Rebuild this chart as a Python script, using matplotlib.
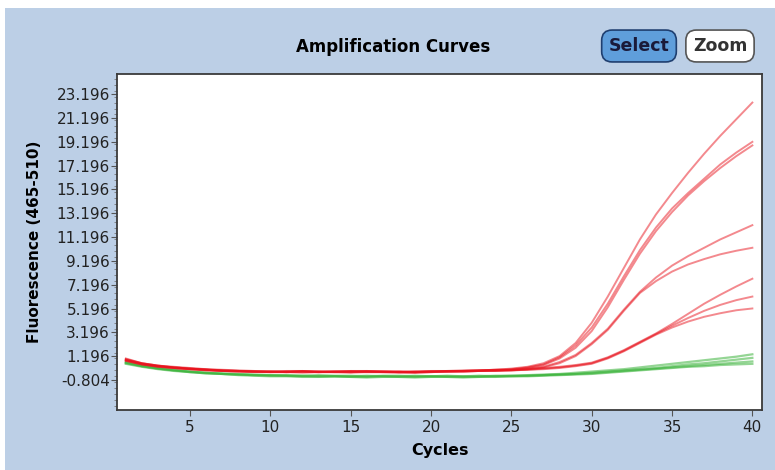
import matplotlib
matplotlib.use("Agg")
import matplotlib.pyplot as plt
from matplotlib.patches import Rectangle
from matplotlib.ticker import MultipleLocator

# cycles 1..40
cycles = list(range(1, 41))

# red (positive) amplification curves
red_a1 = [1.0, 0.6, 0.4, 0.3, 0.2, 0.1, 0.05, 0.0, -0.05, -0.1,
          -0.1, -0.1, -0.15, -0.1, -0.1, -0.05, -0.1, -0.1, -0.15, -0.1,
          -0.1, -0.05, 0.0, 0.05, 0.15, 0.3, 0.6, 1.2, 2.3, 4.0,
          6.2, 8.6, 11.0, 13.1, 14.9, 16.6, 18.2, 19.7, 21.1, 22.5]
red_a2 = [0.9, 0.6, 0.4, 0.25, 0.15, 0.1, 0.0, -0.05, -0.1, -0.1,
          -0.15, -0.1, -0.1, -0.15, -0.15, -0.1, -0.1, -0.15, -0.1, -0.1,
          -0.05, -0.05, 0.0, 0.05, 0.1, 0.25, 0.5, 1.1, 2.1, 3.6,
          5.6, 7.9, 10.1, 12.0, 13.6, 14.9, 16.1, 17.3, 18.3, 19.2]
red_a3 = [0.8, 0.5, 0.35, 0.2, 0.1, 0.05, -0.05, -0.1, -0.1, -0.15,
          -0.15, -0.2, -0.15, -0.15, -0.2, -0.15, -0.15, -0.2, -0.2, -0.15,
          -0.1, -0.1, -0.05, 0.0, 0.05, 0.2, 0.45, 1.0, 1.9, 3.3,
          5.3, 7.6, 9.8, 11.7, 13.3, 14.7, 15.9, 17.0, 18.0, 18.9]
red_b1 = [0.9, 0.55, 0.35, 0.25, 0.15, 0.05, 0.0, -0.05, -0.1, -0.1,
          -0.1, -0.05, -0.1, -0.1, -0.05, -0.1, -0.1, -0.1, -0.15, -0.1,
          -0.05, -0.05, 0.0, 0.0, 0.05, 0.15, 0.3, 0.7, 1.3, 2.3,
          3.5, 5.1, 6.6, 7.8, 8.8, 9.6, 10.3, 11.0, 11.6, 12.2]
red_b2 = [0.85, 0.5, 0.3, 0.2, 0.1, 0.0, -0.05, -0.1, -0.15, -0.15,
          -0.15, -0.1, -0.15, -0.15, -0.1, -0.15, -0.15, -0.15, -0.2, -0.15,
          -0.1, -0.1, -0.05, -0.05, 0.0, 0.1, 0.25, 0.6, 1.2, 2.2,
          3.4, 5.0, 6.5, 7.5, 8.3, 8.9, 9.35, 9.75, 10.05, 10.3]
red_c1 = [0.95, 0.6, 0.4, 0.25, 0.15, 0.05, 0.0, -0.05, -0.1, -0.1,
          -0.05, -0.05, -0.1, -0.1, -0.05, -0.05, -0.1, -0.1, -0.1, -0.05,
          -0.05, 0.0, 0.0, 0.05, 0.05, 0.1, 0.2, 0.3, 0.45, 0.65,
          1.1, 1.7, 2.4, 3.1, 3.9, 4.75, 5.6, 6.35, 7.05, 7.7]
red_c2 = [0.8, 0.5, 0.3, 0.2, 0.1, 0.0, -0.05, -0.1, -0.1, -0.15,
          -0.1, -0.1, -0.15, -0.1, -0.1, -0.1, -0.15, -0.15, -0.1, -0.1,
          -0.1, -0.05, -0.05, 0.0, 0.0, 0.05, 0.15, 0.25, 0.4, 0.6,
          1.05, 1.65, 2.35, 3.05, 3.75, 4.4, 5.0, 5.5, 5.9, 6.2]
red_c3 = [0.85, 0.55, 0.35, 0.2, 0.1, 0.05, -0.05, -0.05, -0.1, -0.1,
          -0.15, -0.1, -0.1, -0.1, -0.15, -0.1, -0.1, -0.15, -0.15, -0.1,
          -0.1, -0.1, -0.05, -0.05, 0.0, 0.05, 0.1, 0.2, 0.35, 0.55,
          1.0, 1.6, 2.3, 3.0, 3.6, 4.1, 4.5, 4.8, 5.05, 5.2]

# green (negative) curves
green_1 = [0.7, 0.4, 0.2, 0.05, -0.1, -0.2, -0.25, -0.3, -0.35, -0.4,
           -0.4, -0.45, -0.4, -0.45, -0.45, -0.5, -0.45, -0.45, -0.5, -0.5,
           -0.45, -0.5, -0.5, -0.45, -0.45, -0.4, -0.35, -0.3, -0.2, -0.1,
           0.0, 0.1, 0.25, 0.4, 0.55, 0.7, 0.85, 1.0, 1.15, 1.35]
green_2 = [0.6, 0.35, 0.15, 0.0, -0.15, -0.25, -0.3, -0.35, -0.4, -0.45,
           -0.45, -0.5, -0.5, -0.5, -0.55, -0.55, -0.5, -0.55, -0.55, -0.5,
           -0.55, -0.55, -0.55, -0.5, -0.5, -0.45, -0.4, -0.35, -0.3, -0.2,
           -0.1, 0.0, 0.1, 0.2, 0.35, 0.5, 0.6, 0.75, 0.9, 1.05]
green_3 = [0.65, 0.35, 0.15, 0.0, -0.1, -0.2, -0.3, -0.35, -0.4, -0.4,
           -0.45, -0.45, -0.5, -0.5, -0.5, -0.45, -0.5, -0.5, -0.45, -0.5,
           -0.5, -0.5, -0.45, -0.5, -0.45, -0.45, -0.4, -0.35, -0.3, -0.25,
           -0.15, -0.05, 0.05, 0.15, 0.25, 0.35, 0.45, 0.55, 0.65, 0.75]
green_4 = [0.55, 0.3, 0.1, -0.05, -0.15, -0.25, -0.3, -0.4, -0.45, -0.5,
           -0.5, -0.55, -0.55, -0.5, -0.55, -0.6, -0.55, -0.55, -0.6, -0.55,
           -0.55, -0.6, -0.55, -0.55, -0.5, -0.5, -0.45, -0.4, -0.35, -0.3,
           -0.2, -0.1, 0.0, 0.1, 0.2, 0.3, 0.35, 0.45, 0.5, 0.55]

red_curves = [red_a1, red_a2, red_a3, red_b1, red_b2, red_c1, red_c2, red_c3]
green_curves = [green_1, green_2, green_3, green_4]

y_ticks = [-0.804 + 2 * i for i in range(13)]
x_ticks = [5, 10, 15, 20, 25, 30, 35, 40]

bg_blue = '#bccfe6'

fig = plt.figure(figsize=(7.75, 4.70), dpi=100)
fig.patch.set_facecolor('white')
# blue panel behind the chart (small white margin on top/left)
fig.patches.append(Rectangle((5 / 775, 0), 1, 1 - 8 / 470, transform=fig.transFigure,
                             facecolor=bg_blue, edgecolor='none', zorder=-1))

ax = fig.add_axes([117 / 775, 1 - 410 / 470, (762 - 117) / 775, (410 - 74) / 470])
ax.set_facecolor('white')

for ys in green_curves:
    ax.plot(cycles, ys, color='#3cb43c', alpha=0.55, lw=1.6)
for ys in red_curves:
    ax.plot(cycles, ys, color='#e8141e', alpha=0.5, lw=1.4)

ax.set_xlim(0.45, 40.6)
ax.set_ylim(-3.33, 24.9)
ax.set_xticks(x_ticks)
ax.set_yticks(y_ticks)
ax.set_yticklabels([f"{v:.3f}" for v in y_ticks])
ax.yaxis.set_minor_locator(MultipleLocator(0.5))
ax.tick_params(axis='both', direction='out', length=4, width=0.8, color='#555555')
ax.tick_params(axis='y', which='minor', direction='out', length=2, width=0.6, color='#777777')
ax.tick_params(axis='x', pad=3)
ax.tick_params(axis='y', pad=1)
for lab in ax.get_xticklabels() + ax.get_yticklabels():
    lab.set_fontsize(11)
    lab.set_color('#222222')

for side in ['top', 'right', 'left', 'bottom']:
    ax.spines[side].set_color('#3a3a3a')
    ax.spines[side].set_linewidth(1.3)

ax.set_xlabel("Cycles", fontsize=11.5, fontweight='bold', labelpad=6)
fig.text(35 / 775, 1 - 242 / 470, "Fluorescence (465-510)", rotation=90,
         ha='center', va='center', fontsize=11, fontweight='bold')

fig.text(393 / 775, 1 - 47 / 470, "Amplification Curves", ha='center', va='center',
         fontsize=12, fontweight='bold')

fig.text(639 / 775, 1 - 46 / 470, "Select", ha='center', va='center', fontsize=12.5,
         fontweight='bold', color='#1a1a3a',
         bbox=dict(boxstyle='round,pad=0.4,rounding_size=0.6', facecolor='#5f9edb',
                   edgecolor='#1f3f70', lw=1.2))
fig.text(720 / 775, 1 - 46 / 470, "Zoom", ha='center', va='center', fontsize=12.5,
         fontweight='bold', color='#333333',
         bbox=dict(boxstyle='round,pad=0.4,rounding_size=0.6', facecolor='white',
                   edgecolor='#555555', lw=1.2))

fig.savefig("out.png", dpi=100, facecolor=fig.get_facecolor())
